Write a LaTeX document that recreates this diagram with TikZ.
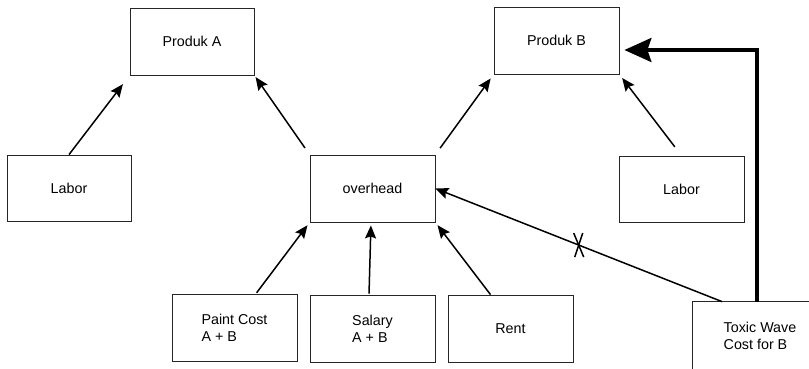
\documentclass[tikz,border=0pt]{standalone}
\usepackage{fontspec}
\setmainfont{Liberation Sans}
\usetikzlibrary{arrows.meta,calc}

\tikzset{
  box/.style={draw=black!85, line width=0.8pt, rectangle, inner sep=0pt,
    minimum width=125pt, minimum height=67pt, align=left,
    font=\fontsize{14.3pt}{17pt}\selectfont},
  frame/.style={draw=black!85, line width=0.8pt},
  link/.style={line width=1.5pt, -{Stealth[length=13pt,width=11pt,inset=2pt]}},
  heavy/.style={line width=3.4pt, -{Stealth[length=27pt,width=24pt,inset=4pt]}},
  cross/.style={line width=1.5pt}
}

\begin{document}
\begin{tikzpicture}[x=1pt,y=-1pt]
\useasboundingbox (0,0) rectangle (809,368);
\clip (0,0) rectangle (809,368);

% products
\node[box, minimum width=124pt] (pa) at (192,41.5) {Produk A};
\node[box] (pb) at (556.5,40.5) {Produk B};

% middle row
\node[box, minimum width=124pt, minimum height=66pt] (lab1) at (69,188) {Labor};
\node[box] (ovh) at (372.5,188.5) {overhead};
\node[box, minimum height=66pt] (lab2) at (681.5,189) {Labor};

% cost pools
\node[box] (paint) at (234.5,327.5) {Paint Cost\\A + B};
\node[box] (sal) at (372.5,328.5) {Salary\\A + B};
\node[box] (rent) at (510.5,328.5) {Rent};
% this pool runs off the lower right edge, so its frame is drawn separately
\node[box, draw=none, minimum width=134pt, minimum height=68pt] (tox) at (760,336) {Toxic Wave\\Cost for B};
\draw[frame] (tox.north west) rectangle ([shift={(30pt,-20pt)}]tox.south east);

% allocations to products
\draw[link, shorten >=11pt] (lab1.north) -- (pa.south west);
\draw[link, shorten <=8pt, shorten >=2pt] (ovh.north west) -- (pa.south east);
\draw[link, shorten <=8pt, shorten >=5pt] (ovh.north east) -- (pb.south west);
\draw[link, shorten <=11pt, shorten >=4.5pt] (lab2.north) -- (pb.south east);

% pools into overhead
\draw[link, shorten <=1pt, shorten >=3.5pt] ([xshift=21.5pt]paint.north) -- (ovh.south west);
\draw[link, shorten <=1pt, shorten >=3pt] ([xshift=-3.5pt]sal.north) -- ([xshift=-1.5pt]ovh.south);
\draw[link, shorten >=3.5pt] ([xshift=-20pt]rent.north) -- (ovh.south east);

% rejected route through overhead, crossed out
\draw[link] ([xshift=-38pt]tox.north) -- coordinate[pos=0.5] (xm) (ovh.east);
\draw[cross] ([shift={(-5,-12)}]xm) -- ([shift={(5,12)}]xm);
\draw[cross] ([shift={(4,-12)}]xm) -- ([shift={(-4,12)}]xm);

% direct assignment to product B
\draw[heavy, shorten >=5pt] ([xshift=-3pt]tox.north) |- ([yshift=-9.5pt]pb.east);
\end{tikzpicture}
\end{document}
